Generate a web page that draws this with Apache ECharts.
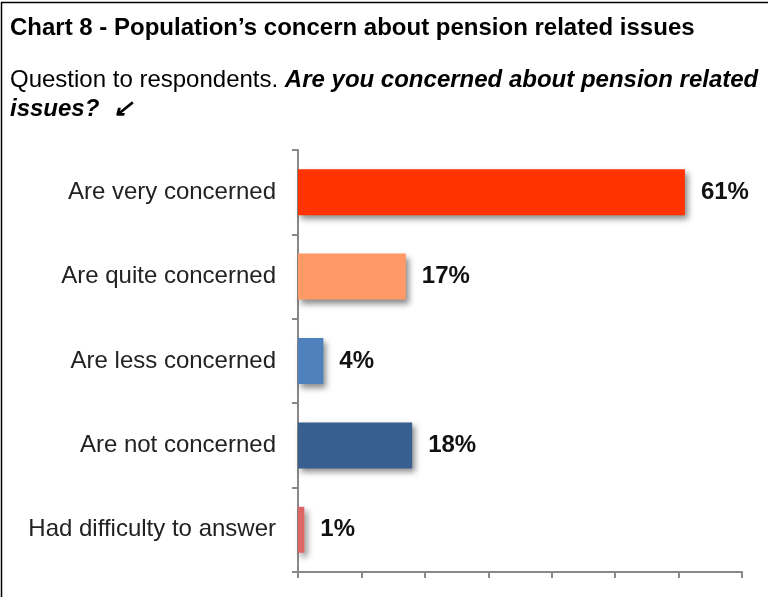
<!DOCTYPE html>
<html>
<head>
<meta charset="utf-8">
<script src="https://cdn.jsdelivr.net/npm/echarts@6/dist/echarts.min.js"></script>
<style>
  html, body { margin: 0; padding: 0; background: #fff; }
  #chart { width: 768px; height: 597px; }
</style>
</head>
<body>
<div id="chart"></div>
<script>
// Survey answers, top to bottom
const categories = [
  'Are very concerned',
  'Are quite concerned',
  'Are less concerned',
  'Are not concerned',
  'Had difficulty to answer'
];
// Share of respondents, %
const shares = [61, 17, 4, 18, 1];
const barColors = ['#FF3300', '#FF9966', '#4F81BD', '#375F8F', '#E06666'];

const FONT = '"Liberation Sans", Arial, sans-serif';
const chart = echarts.init(document.getElementById('chart'), null, { renderer: 'canvas' });

chart.setOption({
  animation: false,
  backgroundColor: '#fff',
  graphic: [
    // frame lines
    { type: 'line', shape: { x1: 1.5, y1: 2, x2: 1.5, y2: 597 }, style: { stroke: '#000', lineWidth: 1.5 } },
    { type: 'line', shape: { x1: 1, y1: 2.5, x2: 768, y2: 2.5 }, style: { stroke: '#000', lineWidth: 1.5 } },
    {
      type: 'text', left: 10, top: 16,
      style: {
        text: 'Chart 8 - Population\u2019s concern about pension related issues',
        font: 'bold 24px ' + FONT,
        fill: '#000'
      }
    },
    {
      type: 'text', left: 10, top: 68,
      style: {
        text: '{n|Question to respondents. }{b|Are you concerned about pension related}\n{b|issues?  \u2199}',
        fill: '#000',
        rich: {
          n: { font: '24px ' + FONT, lineHeight: 29, fill: '#000' },
          b: { font: 'italic bold 24px ' + FONT, lineHeight: 29, fill: '#000' }
        }
      }
    }
  ],
  grid: { left: 298, right: 26, top: 150, bottom: 25, containLabel: false },
  xAxis: {
    type: 'value',
    min: 0, max: 70, interval: 10,
    axisLine: { show: true, lineStyle: { color: '#888', width: 2 } },
    axisTick: { show: true, length: 6, lineStyle: { color: '#888', width: 2 } },
    axisLabel: { show: false },
    splitLine: { show: false }
  },
  yAxis: {
    type: 'category',
    inverse: true,
    data: categories,
    axisLine: { show: true, lineStyle: { color: '#888', width: 2 } },
    axisTick: { show: true, length: 6, lineStyle: { color: '#888', width: 2 } },
    axisLabel: {
      margin: 22,
      color: '#222',
      fontSize: 24,
      fontFamily: FONT
    }
  },
  series: [{
    type: 'bar',
    barWidth: 46,
    data: shares.map((v, i) => ({
      value: v,
      itemStyle: {
        color: barColors[i],
        shadowColor: 'rgba(0,0,0,0.45)',
        shadowBlur: 6,
        shadowOffsetX: 3,
        shadowOffsetY: 4
      }
    })),
    label: {
      show: true,
      position: 'right',
      distance: 16,
      formatter: '{c}%',
      color: '#111',
      fontWeight: 'bold',
      fontSize: 24,
      fontFamily: FONT
    }
  }]
});
</script>
</body>
</html>
